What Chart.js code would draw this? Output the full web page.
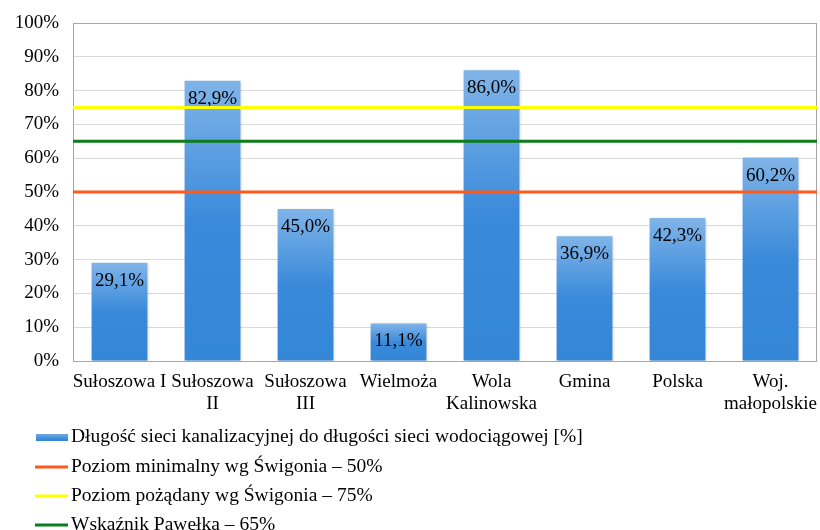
<!DOCTYPE html>
<html lang="pl">
<head>
<meta charset="utf-8">
<script src="https://cdn.jsdelivr.net/npm/chart.js@4.4.1/dist/chart.umd.min.js"></script>
<style>
  html, body { margin: 0; padding: 0; background: #fff; overflow: hidden; }
  #wrap { width: 820px; height: 530px; position: relative; }
</style>
</head>
<body>
<div id="wrap"><canvas id="chart"></canvas></div>
<script>
const FONT = '"Liberation Serif", "Times New Roman", serif';

const categories = [
  ["Sułoszowa I"],
  ["Sułoszowa", "II"],
  ["Sułoszowa", "III"],
  ["Wielmoża"],
  ["Wola", "Kalinowska"],
  ["Gmina"],
  ["Polska"],
  ["Woj.", "małopolskie"]
];
const sewerRatio = [29.1, 82.9, 45.0, 11.1, 86.0, 36.9, 42.3, 60.2];
const yTicks = [0, 10, 20, 30, 40, 50, 60, 70, 80, 90, 100];

const minLevel = 50;      // Świgoń – minimum
const desiredLevel = 75;  // Świgoń – pożądany
const pawelekLevel = 65;  // Pawełek

const seriesNames = [
  "Długość sieci kanalizacyjnej do długości sieci wodociągowej [%]",
  "Poziom minimalny wg Świgonia – 50%",
  "Poziom pożądany wg Świgonia – 75%",
  "Wskaźnik Pawełka – 65%"
];

function fmt(v) {
  return v.toFixed(1).replace(".", ",") + "%";
}

function barGradient(c) {
  const chart = c.chart;
  if (!chart.chartArea || c.dataIndex === undefined) return "#3A8ADA";
  const y = chart.scales.y;
  const top = y.getPixelForValue(sewerRatio[c.dataIndex]);
  const bottom = y.getPixelForValue(0);
  const g = chart.ctx.createLinearGradient(0, top, 0, bottom);
  g.addColorStop(0, "#80B4E8");
  g.addColorStop(0.5, "#3A8ADA");
  g.addColorStop(1, "#3486D7");
  return g;
}

function flatLine(v) {
  return [{ x: 0, y: v }, { x: 1, y: v }];
}

const frame = {
  id: "frame",
  beforeDatasetsDraw(chart) {
    const { ctx, chartArea: a } = chart;
    ctx.save();
    ctx.strokeStyle = "#A6A6A6";
    ctx.lineWidth = 1;
    ctx.strokeRect(a.left + 0.5, a.top + 0.5, a.right - a.left - 1, a.bottom - a.top);
    ctx.restore();
  }
};

const barLabels = {
  id: "barLabels",
  beforeDatasetDraw(chart, args) {
    if (args.index !== 0) return;
    const ctx = chart.ctx;
    ctx.save();
    ctx.shadowColor = "rgba(0,0,0,0.25)";
    ctx.shadowBlur = 3;
    ctx.shadowOffsetX = 1;
    ctx.shadowOffsetY = 1;
  },
  afterDatasetDraw(chart, args) {
    if (args.index !== 0) return;
    const ctx = chart.ctx;
    ctx.restore();
    ctx.save();
    ctx.font = "19px " + FONT;
    ctx.fillStyle = "#000";
    ctx.textAlign = "center";
    ctx.textBaseline = "middle";
    chart.getDatasetMeta(0).data.forEach((bar, i) => {
      ctx.fillText(fmt(sewerRatio[i]), bar.x, bar.y + 18);
    });
    ctx.restore();
  }
};

const sideLegend = {
  id: "sideLegend",
  afterDraw(chart) {
    const ctx = chart.ctx;
    const rows = [437, 467, 496, 525];
    ctx.save();
    ctx.font = "19.5px " + FONT;
    ctx.textBaseline = "middle";
    ctx.textAlign = "left";
    chart.data.datasets.forEach((ds, i) => {
      const y = rows[i];
      if (ds.type === "bar") {
        const g = ctx.createLinearGradient(0, y - 3, 0, y + 3);
        g.addColorStop(0, "#6FA8E4");
        g.addColorStop(1, "#3486D7");
        ctx.fillStyle = g;
        ctx.fillRect(36, y - 3, 32, 7);
      } else {
        ctx.strokeStyle = ds.borderColor;
        ctx.lineWidth = 3;
        ctx.beginPath();
        ctx.moveTo(35, y);
        ctx.lineTo(68, y);
        ctx.stroke();
      }
      ctx.fillStyle = "#000";
      ctx.fillText(ds.label, 71, y);
    });
    ctx.restore();
  }
};

new Chart(document.getElementById("chart"), {
  type: "bar",
  data: {
    labels: categories,
    datasets: [
      {
        type: "bar",
        label: seriesNames[0],
        data: sewerRatio,
        backgroundColor: barGradient,
        barPercentage: 0.6,
        categoryPercentage: 1,
        grouped: false,
        order: 2
      },
      {
        type: "line",
        label: seriesNames[1],
        data: flatLine(minLevel),
        xAxisID: "x2",
        borderColor: "#FF5A1E",
        borderWidth: 3,
        pointRadius: 0,
        order: 1
      },
      {
        type: "line",
        label: seriesNames[2],
        data: flatLine(desiredLevel),
        xAxisID: "x2",
        borderColor: "#FFFF00",
        borderWidth: 3,
        pointRadius: 0,
        order: 1
      },
      {
        type: "line",
        label: seriesNames[3],
        data: flatLine(pawelekLevel),
        xAxisID: "x2",
        borderColor: "#0B7D1A",
        borderWidth: 3,
        pointRadius: 0,
        order: 1
      }
    ]
  },
  options: {
    responsive: true,
    maintainAspectRatio: false,
    animation: false,
    devicePixelRatio: 1,
    layout: { padding: { top: 23, right: 3, left: 0, bottom: 114 } },
    plugins: {
      legend: { display: false },
      tooltip: { enabled: false }
    },
    scales: {
      x: {
        type: "category",
        grid: { display: false, drawTicks: false },
        border: { display: false },
        ticks: {
          color: "#000",
          font: { family: FONT, size: 19, lineHeight: 1.15 },
          padding: 10,
          maxRotation: 0,
          autoSkip: false
        },
        afterFit(s) {
          s.height = 55;
          s.paddingLeft = 0;
          s.paddingRight = 0;
        }
      },
      x2: {
        type: "linear",
        min: 0,
        max: 1,
        offset: false,
        display: false
      },
      y: {
        min: 0,
        max: 100,
        afterBuildTicks(s) { s.ticks = yTicks.map((v) => ({ value: v })); },
        grid: { color: "#D9D9D9", drawTicks: false },
        border: { display: false },
        ticks: {
          color: "#000",
          font: { family: FONT, size: 19 },
          padding: 14,
          callback: (v) => v + "%"
        },
        afterFit(s) {
          s.width = 73;
          s.paddingTop = 0;
          s.paddingBottom = 0;
        }
      }
    }
  },
  plugins: [frame, barLabels, sideLegend]
});
</script>
</body>
</html>
